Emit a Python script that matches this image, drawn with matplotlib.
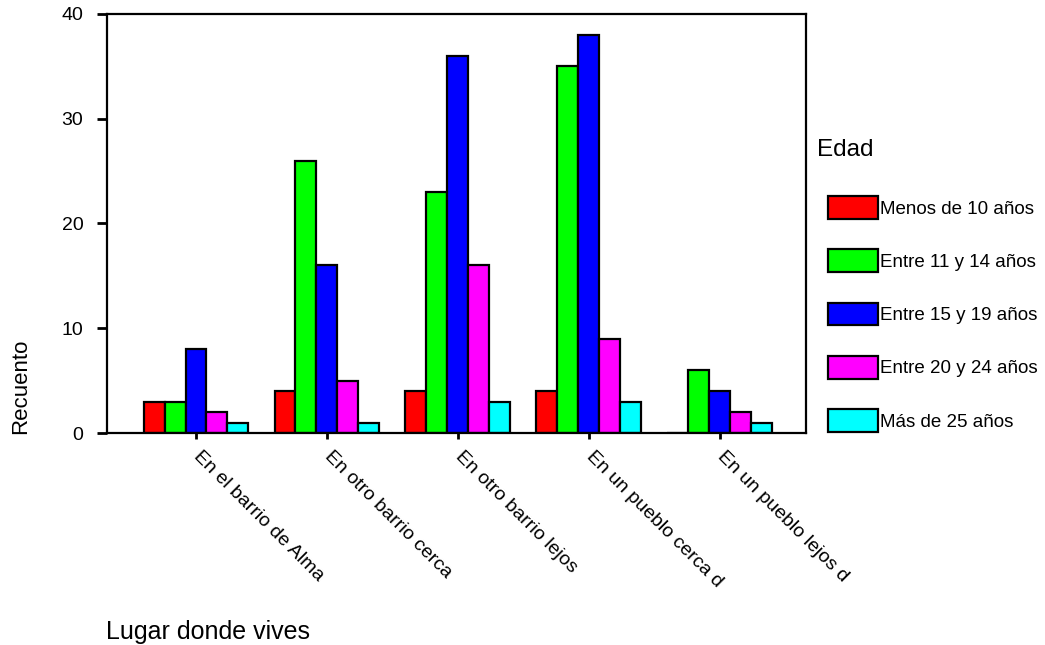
import numpy as np
import matplotlib.pyplot as plt

plt.rcParams['font.family'] = ['Liberation Sans', 'DejaVu Sans']

lugares = ["En el barrio de Alma", "En otro barrio cerca", "En otro barrio lejos",
           "En un pueblo cerca d", "En un pueblo lejos d"]
edades = ["Menos de 10 años", "Entre 11 y 14 años", "Entre 15 y 19 años",
          "Entre 20 y 24 años", "Más de 25 años"]
menos_10 = [3, 4, 4, 4, 0]
entre_11_14 = [3, 26, 23, 35, 6]
entre_15_19 = [8, 16, 36, 38, 4]
entre_20_24 = [2, 5, 16, 9, 2]
mas_25 = [1, 1, 3, 3, 1]
colores = ["#ff0000", "#00ff00", "#0000ff", "#ff00ff", "#00ffff"]


def main():
    series = [menos_10, entre_11_14, entre_15_19, entre_20_24, mas_25]
    fig = plt.figure(figsize=(10.45, 6.45), dpi=100)
    ax = fig.add_axes([107 / 1045, 1 - 433 / 645, 699 / 1045, 419 / 645])

    x = np.arange(len(lugares))
    w = 0.16
    handles = []
    for i, (vals, col) in enumerate(zip(series, colores)):
        b = ax.bar(x + (i - 2) * w, vals, w, color=col, edgecolor="black",
                   linewidth=1.6, label=edades[i])
        handles.append(b)

    ax.set_xlim(-0.68, 4.66)
    ax.set_ylim(0, 40)
    ax.set_yticks([0, 10, 20, 30, 40])
    ax.set_xticks(x)
    ax.set_xticklabels(lugares, rotation=-45, ha="left", va="center",
                       rotation_mode="anchor")
    ax.tick_params(axis="y", labelsize=14, length=7, width=2, pad=10)
    ax.tick_params(axis="x", labelsize=14, length=4, width=2, pad=11)
    for s in ax.spines.values():
        s.set_linewidth(1.6)

    fig.text(21 / 1045, 1 - 386 / 645, "Recuento", rotation=90,
             ha="center", va="center", fontsize=16)
    fig.text(106 / 1045, 1 - 632 / 645, "Lugar donde vives",
             ha="left", va="center", fontsize=18)
    fig.text(817 / 1045, 1 - 150 / 645, "Edad", ha="left", va="center",
             fontsize=17.5)

    ax.legend(handles=handles, loc="upper left",
              bbox_to_anchor=(828 / 1045, 1 - 196 / 645),
              bbox_transform=fig.transFigure, frameon=False, fontsize=13.5,
              handlelength=2.65, handleheight=1.5, labelspacing=1.62,
              handletextpad=0.12, borderpad=0, borderaxespad=0)

    fig.savefig("out.png")


if __name__ == "__main__":
    main()
